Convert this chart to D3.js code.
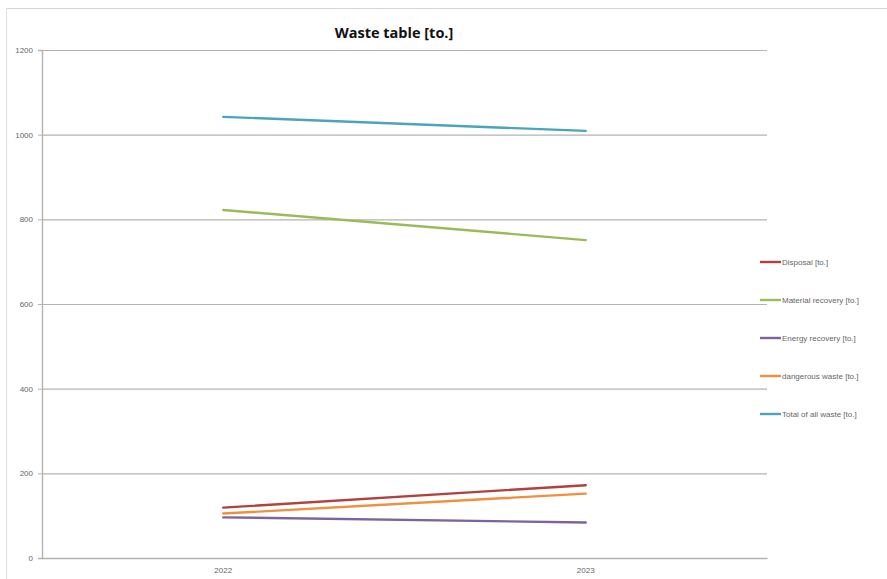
<!DOCTYPE html>
<html>
<head>
<meta charset="utf-8">
<script src="https://cdn.jsdelivr.net/npm/d3@7"></script>
<style>
  html, body { margin: 0; padding: 0; background: #fff; }
  svg { display: block; }
</style>
</head>
<body>
<svg id="chart" width="887" height="579"></svg>
<script>
// Waste quantities per year, in tonnes
const years = ["2022", "2023"];
const seriesNames = [
  "Disposal [to.]",
  "Material recovery [to.]",
  "Energy recovery [to.]",
  "dangerous waste [to.]",
  "Total of all waste [to.]"
];
const disposal = [119, 172];
const materialRecovery = [822, 751];
const energyRecovery = [96, 84];
const dangerousWaste = [105, 152];
const totalWaste = [1042, 1009];
const yTicks = [0, 200, 400, 600, 800, 1000, 1200];
const seriesColors = ["#B0413E", "#9BBB59", "#7E649E", "#F0903E", "#4AA4BE"];

const seriesValues = [disposal, materialRecovery, energyRecovery, dangerousWaste, totalWaste];

const svg = d3.select("#chart");
const plot = { left: 42, right: 767, top: 50, bottom: 558 };

// chart frame edges
svg.append("line").attr("x1", 6.5).attr("x2", 887).attr("y1", 8.5).attr("y2", 8.5)
  .attr("stroke", "#d4d4d4").attr("stroke-width", 1.2);
svg.append("line").attr("x1", 6.5).attr("x2", 6.5).attr("y1", 8.5).attr("y2", 579)
  .attr("stroke", "#e2e2e2").attr("stroke-width", 1.2);

const x = d3.scaleBand().domain(years).range([plot.left, plot.right]);
const y = d3.scaleLinear().domain([0, 1200]).range([plot.bottom, plot.top]);

// horizontal gridlines
svg.append("g").selectAll("line").data(yTicks.filter(d => d > 0)).join("line")
  .attr("x1", plot.left).attr("x2", plot.right)
  .attr("y1", d => y(d) + 0.5).attr("y2", d => y(d) + 0.5)
  .attr("stroke", "#b3b3b3").attr("stroke-width", 1.2);

// y axis
const yAxis = svg.append("g").attr("transform", `translate(${plot.left},0)`)
  .call(d3.axisLeft(y).tickValues(yTicks).tickFormat(d3.format("d")).tickSize(4).tickPadding(5));
yAxis.select(".domain").attr("stroke", "#b3b3b3").attr("stroke-width", 1.4);
yAxis.selectAll(".tick line").attr("stroke", "#b3b3b3");
yAxis.selectAll(".tick text").attr("fill", "#666")
  .style("font-family", "'Liberation Sans', sans-serif").style("font-size", "8px");

// x axis
const xAxis = svg.append("g").attr("transform", `translate(0,${plot.bottom})`)
  .call(d3.axisBottom(x).tickSize(0).tickPadding(9));
xAxis.select(".domain").attr("stroke", "#b3b3b3").attr("stroke-width", 1.4);
xAxis.selectAll(".tick text").attr("fill", "#666")
  .style("font-family", "'Liberation Sans', sans-serif").style("font-size", "8px");

// series lines
const line = d3.line()
  .x((d, i) => x(years[i]) + x.bandwidth() / 2)
  .y(d => y(d));

svg.append("g").selectAll("path").data(seriesValues).join("path")
  .attr("d", d => line(d))
  .attr("fill", "none")
  .attr("stroke", (d, i) => seriesColors[i])
  .attr("stroke-width", 2.4)
  .attr("stroke-linecap", "round");

// title
svg.append("text").attr("x", 394).attr("y", 38).attr("text-anchor", "middle")
  .style("font-family", "'Open Sans', 'Liberation Sans', sans-serif")
  .style("font-size", "14.5px").style("font-weight", "bold").attr("fill", "#111")
  .text("Waste table [to.]");

// legend
const legend = svg.append("g").selectAll("g").data(seriesNames).join("g")
  .attr("transform", (d, i) => `translate(760,${262 + i * 38})`);
legend.append("line").attr("x1", 0).attr("x2", 21).attr("y1", 0).attr("y2", 0)
  .attr("stroke", (d, i) => seriesColors[i]).attr("stroke-width", 2.4);
legend.append("text").attr("x", 22).attr("y", 2.8)
  .style("font-family", "'Liberation Sans', sans-serif").style("font-size", "8px")
  .attr("fill", "#666").text(d => d);
</script>
</body>
</html>
